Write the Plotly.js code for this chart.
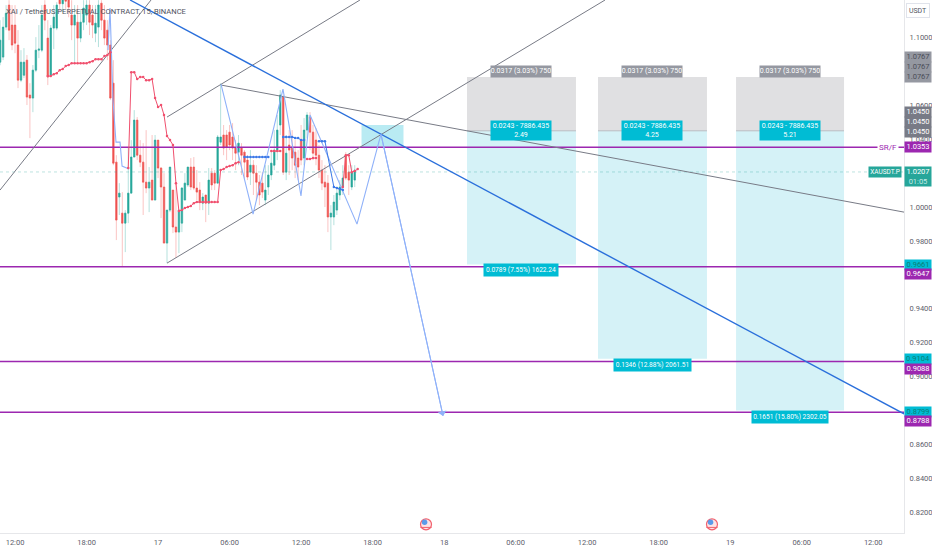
<!DOCTYPE html>
<html><head><meta charset="utf-8">
<script src="https://cdn.plot.ly/plotly-3.0.1.min.js"></script>
<style>html,body{margin:0;padding:0;background:#fff}#c{width:932px;height:550px}</style>
</head><body><div id="c"></div>
<script>
// Time in hours since the 16th 00:00; 15 minute candles
const firstBar = 10.75, barStep = 0.25;
const open = [1.0855,1.0885,1.1062,1.1192,1.1074,1.1074,1.0956,1.0749,1.0778,1.0867,1.0661,1.0643,1.0808,1.0926,1.0926,1.1192,1.0997,1.0778,1.1056,1.1056,1.1260,1.1200,1.1260,1.1240,1.1133,1.1074,1.1091,1.0997,1.1091,1.1133,1.1192,1.1133,1.1026,1.1062,1.1203,1.1103,1.1044,1.0956,1.0731,1.0265,1.0059,0.9964,0.9905,0.9964,1.0082,1.0295,1.0513,1.0306,1.0265,1.0147,1.0112,1.0159,1.0041,1.0395,1.0230,1.0118,0.9787,0.9982,1.0100,0.9882,0.9852,0.9905,1.0041,1.0130,1.0236,1.0236,1.0112,1.0100,1.0023,1.0071,1.0023,1.0200,1.0200,1.0141,1.0383,1.0425,1.0425,1.0442,1.0413,1.0348,1.0324,1.0348,1.0324,1.0277,1.0206,1.0247,1.0200,1.0147,1.0141,1.0041,1.0118,1.0189,1.0247,1.0336,1.0484,1.0649,1.0206,1.0366,1.0354,1.0324,1.0289,1.0395,1.0289,1.0454,1.0531,1.0442,1.0395,1.0306,1.0218,1.0147,1.0141,0.9941,0.9941,0.9982,1.0071,1.0118,1.0306,1.0206,1.0118,1.0159];
const high = [1.1103,1.1121,1.1192,1.1221,1.1192,1.1192,1.1044,1.0926,1.0938,1.0897,1.0731,1.0838,1.1003,1.1074,1.1192,1.1221,1.1103,1.1074,1.1192,1.1209,1.1300,1.1300,1.1300,1.1300,1.1221,1.1192,1.1192,1.1162,1.1221,1.1221,1.1221,1.1192,1.1192,1.1221,1.1221,1.1192,1.1103,1.0985,1.0867,1.0306,1.0141,1.0088,0.9982,1.0354,1.0395,1.0572,1.0531,1.0395,1.0377,1.0454,1.0236,1.0425,1.0425,1.0395,1.0236,1.0200,0.9982,1.0236,1.0100,1.0147,0.9982,1.0118,1.0200,1.0236,1.0289,1.0295,1.0218,1.0147,1.0082,1.0071,1.0230,1.0230,1.0218,1.0425,1.0731,1.0484,1.0454,1.0484,1.0495,1.0395,1.0425,1.0377,1.0336,1.0306,1.0336,1.0277,1.0247,1.0189,1.0206,1.0247,1.0247,1.0336,1.0454,1.0543,1.0690,1.0661,1.0425,1.0454,1.0454,1.0395,1.0336,1.0484,1.0525,1.0560,1.0560,1.0484,1.0466,1.0366,1.0277,1.0247,1.0189,1.0011,1.0071,1.0112,1.0159,1.0247,1.0324,1.0247,1.0247,1.0247];
const low = [1.0837,1.0867,1.1044,1.0985,1.0926,1.0908,1.0702,1.0737,1.0761,1.0602,1.0407,1.0560,1.0796,1.0879,1.0914,1.1044,1.0720,1.0767,1.0932,1.1044,1.1150,1.1150,1.1170,1.1120,1.0985,1.0855,1.0855,1.0973,1.1044,1.1074,1.1015,1.0997,1.0973,1.0944,1.1044,1.0956,1.0867,1.0631,1.0247,0.9805,0.9953,0.9646,0.9734,0.9905,1.0082,1.0295,1.0277,1.0236,0.9953,1.0082,0.9970,1.0041,1.0041,1.0171,0.9935,0.9787,0.9669,0.9970,0.9846,0.9699,0.9728,0.9852,1.0041,1.0118,1.0100,1.0100,1.0041,0.9982,0.9982,0.9911,0.9953,1.0100,1.0100,1.0141,1.0366,1.0306,1.0277,1.0336,1.0277,1.0218,1.0247,1.0189,1.0159,1.0159,1.0130,1.0071,1.0041,1.0011,1.0053,1.0011,1.0071,1.0159,1.0218,1.0277,1.0425,1.0189,1.0159,1.0189,1.0218,1.0171,1.0159,1.0247,1.0247,1.0407,1.0336,1.0277,1.0247,1.0171,1.0100,1.0000,0.9852,0.9746,0.9893,0.9953,1.0041,1.0071,1.0159,1.0071,1.0100,1.0118];
const close = [1.0985,1.1062,1.1144,1.1044,1.0956,1.0967,1.0749,1.0855,1.0855,1.0649,1.0643,1.0808,1.0926,1.0932,1.1133,1.1103,1.0767,1.1056,1.1121,1.1192,1.1200,1.1260,1.1215,1.1180,1.1074,1.1133,1.0997,1.1091,1.1174,1.1192,1.1091,1.1074,1.1085,1.1192,1.1103,1.0997,1.0956,1.0643,1.0259,0.9923,1.0082,0.9905,0.9964,1.0082,1.0295,1.0513,1.0306,1.0265,1.0147,1.0112,1.0147,1.0041,1.0395,1.0230,1.0118,0.9787,0.9982,1.0236,0.9882,0.9852,0.9982,1.0112,1.0141,1.0236,1.0118,1.0112,1.0088,1.0029,1.0059,1.0023,1.0159,1.0130,1.0141,1.0413,1.0413,1.0348,1.0354,1.0366,1.0348,1.0318,1.0377,1.0306,1.0265,1.0177,1.0247,1.0200,1.0147,1.0071,1.0088,1.0100,1.0189,1.0259,1.0336,1.0454,1.0661,1.0206,1.0318,1.0336,1.0289,1.0247,1.0236,1.0277,1.0454,1.0543,1.0442,1.0318,1.0306,1.0218,1.0141,1.0118,0.9941,0.9964,1.0029,1.0082,1.0118,1.0171,1.0171,1.0159,1.0206,1.0218];

// Axis labels
const xTickVals = [12,18,24,30,36,42,48,54,60,66,72,78,84];
const xTickText = ["12:00","18:00","17","06:00","12:00","18:00","18","06:00","12:00","18:00","19","06:00","12:00"];
const yTickVals = [1.1,1.06,1.04,1.0,0.98,0.94,0.92,0.90,0.86,0.84,0.82];
const xRange = [10.74,86.58], yRange = [0.8076,1.1222];

// Horizontal levels
const levels = [1.0353,0.9647,0.9088,0.8788];
const lastPrice = 1.0207;

// Trend lines: [x0,x1], [y0,y1]
const trendX = [[10.74,23.41],[24.75,40.94],[24.75,61.5],[29.28,86.58]];
const trendY = [[1.0100,1.1222],[1.0531,1.1222],[0.9669,1.1222],[1.0720,0.9970]];
const blueX = [21.65,86.58], blueY = [1.1222,0.8779];

// Zigzag drawings
const zigAX = [19.80,19.97,20.22,20.47,20.81,20.98,21.56];
const zigAY = [1.0926,1.1174,1.0631,1.0383,1.0383,1.0242,1.0224];
const zigBX = [29.28,31.97,34.48,35.99,36.75,40.69,42.70,47.91];
const zigBY = [1.0725,0.9958,1.0696,1.0065,1.0543,0.9899,1.0430,0.8767];

// Indicator segments
const redAX = [14.75,15,15.25,15.5,15.75,16,16.25,16.5,16.75,17,17.25,17.5,17.75,18,18.25,18.5,18.75,19,19.25,19.5,19.75,20];
const redAY = [1.0773,1.0773,1.0784,1.0790,1.0808,1.0814,1.0832,1.0838,1.0849,1.0849,1.0849,1.0849,1.0849,1.0849,1.0855,1.0861,1.0873,1.0873,1.0873,1.0891,1.0897,1.0914];
const redBX = [21.5,21.75,22,22.25,22.5,22.75,23,23.25,23.5,23.75,24,24.25,24.5,24.75,25,25.25,25.5,25.75,26,26.25,26.5,26.75,27,27.25,27.5,27.75,28,28.25,28.5,28.75,29,29.25,29.5,29.75,30,30.25,30.5,30.75];
const redBY = [1.0230,1.0796,1.0796,1.0755,1.0767,1.0767,1.0749,1.0749,1.0755,1.0643,1.0590,1.0602,1.0543,1.0419,1.0395,1.0366,1.0141,0.9976,0.9982,0.9994,1.0000,1.0006,1.0023,1.0029,1.0029,1.0029,1.0029,1.0029,1.0029,1.0029,1.0029,1.0218,1.0224,1.0236,1.0242,1.0247,1.0259,1.0265];
const redCX = [33.5,33.75,34,34.25], redCY = [1.0330,1.0330,1.0330,1.0330];
const redDX = [36.5,36.75,37,37.25], redDY = [1.0283,1.0283,1.0289,1.0289];
const redEX = [39.5,39.75,40,40.25,40.5,40.75], redEY = [1.0118,1.0306,1.0306,1.0206,1.0212,1.0224];
const stepAX = [31.25,31.5,31.75,32,32.25,32.5,32.75,33,33.25], stepAY = [1.0295,1.0295,1.0295,1.0295,1.0295,1.0295,1.0295,1.0295,1.0295];
const stepBX = [34.5,34.75,35,35.25,35.5,35.75,36,36.25], stepBY = [1.0413,1.0413,1.0413,1.0413,1.0407,1.0407,1.0395,1.0395];
const stepCX = [37.5,37.75,38,38.75,39,39.25,39.5], stepCY = [1.0389,1.0389,1.0389,1.0118,1.0112,1.0106,1.0100];

// Position boxes
const boxLeft = [49.92,60.91,72.49], boxRight = [59.06,70.05,81.55];
const boxEntry = 1.0450, boxStop = 1.0767, boxTargets = [0.9661,0.9104,0.8799];
const boxMid = [54.49,65.48,77.02];
const stopText = "0.0317 (3.03%) 750";
const entryText = ["0.0243 - 7886.435<br>2.49","0.0243 - 7886.435<br>4.25","0.0243 - 7886.435<br>5.21"];
const targetText = ["0.0789 (7.55%) 1622.24","0.1346 (12.88%) 2061.51","0.1651 (15.80%) 2302.05"];
const zoneX = [41.07,44.59], zoneY = [1.0353,1.0484];

// Event icons
const eventX = [46.48,70.47], eventY = 0.8127;

const barX = open.map((_,i)=>firstBar+barStep*i);
const UP='#26a69a', DOWN='#ef5350';
const FONT='Roboto, "Liberation Sans", sans-serif';

const line=(x,y,color,width,dash,extra)=>Object.assign({type:'scatter',mode:'lines',x,y,line:{color,width,dash:dash||'solid'},hoverinfo:'skip',showlegend:false},extra||{});
const marked=(x,y,color,w,size)=>({type:'scatter',mode:'lines+markers',x,y,line:{color,width:w},marker:{color,size},hoverinfo:'skip',showlegend:false});

const traces=[];
traces.push(line(xRange,[lastPrice,lastPrice],'rgba(38,166,154,0.3)',1,'dot'));
traces.push({type:'candlestick',x:barX,open,high,low,close,whiskerwidth:0,hoverinfo:'skip',showlegend:false,
  increasing:{line:{color:'rgba(38,166,154,0.34)',width:1},fillcolor:'rgba(0,0,0,0)'},
  decreasing:{line:{color:'rgba(239,83,80,0.34)',width:1},fillcolor:'rgba(0,0,0,0)'}});
traces.push({type:'candlestick',x:barX,open,close,
  high:open.map((o,i)=>Math.max(o,close[i])),low:open.map((o,i)=>Math.min(o,close[i])),
  whiskerwidth:0,hoverinfo:'skip',showlegend:false,
  increasing:{line:{color:UP,width:0.4},fillcolor:UP},
  decreasing:{line:{color:DOWN,width:0.4},fillcolor:DOWN}});
levels.forEach(v=>traces.push(line(xRange,[v,v],'#9c27b0',1.5)));
trendX.forEach((x,i)=>traces.push(line(x,trendY[i],'#787b86',1)));
traces.push(line(blueX,blueY,'#2a6fdb',1.4));
traces.push(line(zigAX,zigAY,'#8fb1f9',1.1));
traces.push(line(zigBX,zigBY,'#8fb1f9',1.1));
[[redAX,redAY],[redBX,redBY],[redCX,redCY],[redDX,redDY],[redEX,redEY]].forEach(p=>traces.push(marked(p[0],p[1],'#f0506e',1,2.5)));
[[stepAX,stepAY],[stepBX,stepBY],[stepCX,stepCY]].forEach(p=>traces.push(marked(p[0],p[1],'#3b78e7',1,2.5)));
traces.push({type:'scatter',mode:'markers',x:eventX,y:[eventY,eventY],hoverinfo:'skip',showlegend:false,
  marker:{size:11,color:'#fde4e6',line:{color:'#f2616d',width:1.2}}});
traces.push({type:'scatter',mode:'markers',x:eventX.map(v=>v-0.12),y:[eventY+0.0012,eventY+0.0012],hoverinfo:'skip',showlegend:false,
  marker:{size:5.5,color:'#5b9bea'}});
traces.push({type:'scatter',mode:'markers',x:eventX,y:[eventY-0.0018,eventY-0.0018],hoverinfo:'skip',showlegend:false,
  marker:{size:8,symbol:'line-ew',line:{color:'#f2616d',width:1}}});

const shapes=[];
boxLeft.forEach((l,i)=>{
  shapes.push({type:'rect',layer:'below',x0:l,x1:boxRight[i],y0:boxEntry,y1:boxStop,fillcolor:'#e0e0e2',line:{width:0}});
  shapes.push({type:'rect',layer:'below',x0:l,x1:boxRight[i],y0:boxTargets[i],y1:boxEntry,fillcolor:'#d5f2f7',line:{width:0}});
  shapes.push({type:'line',layer:'below',x0:l,x1:boxRight[i],y0:boxEntry,y1:boxEntry,line:{color:'#b9bac0',width:1}});
});
shapes.push({type:'rect',layer:'below',x0:zoneX[0],x1:zoneX[1],y0:zoneY[0],y1:zoneY[1],fillcolor:'#b9ebf3',line:{width:0}});

const ann=[];
const chip=(x,y,text,bg,fg,size,w,h,extra)=>ann.push(Object.assign({x,y,xref:'x',yref:'y',text,showarrow:false,bgcolor:bg,borderpad:0,width:w,height:h,
  font:{family:FONT,size,color:fg||'#fff'},align:'center'},extra||{}));
const targetWidth=[74,77,76];
boxMid.forEach((m,i)=>{
  chip(m,boxStop,stopText,'#9598a1','#fff',7,60,10.5,{yshift:6});
  chip(m,boxEntry,entryText[i],'#00bcd4','#fff',7,60,19,{yshift:0});
  chip(m,boxTargets[i],targetText[i],'#00bcd4','#fff',6.6,targetWidth[i],12,{yshift:-6});
});
const axisChip=(y,shift,text,bg,fg,h)=>ann.push({xref:'paper',x:1,xanchor:'left',xshift:0,yref:'y',y,yshift:shift||0,text,showarrow:false,
  bgcolor:bg,width:26,height:h||9.5,borderpad:0,align:'center',font:{family:FONT,size:7.5,color:fg}});
axisChip(1.0767,20,'1.0767','#9598a1','#4a4d58');
axisChip(1.0767,10,'1.0767','#9598a1','#4a4d58');
axisChip(1.0767,0,'1.0767','#9598a1','#4a4d58');
axisChip(1.0450,19,'1.0450','#787b86','#fff');
axisChip(1.0450,9,'1.0450','#787b86','#fff');
axisChip(1.0450,-1,'1.0450','#787b86','#fff');
axisChip(1.0353,0,'1.0353','#9c27b0','#fff');
axisChip(lastPrice,-4.5,'1.0207<br><span style="color:#c5ebe6">01:05</span>','#26a69a','#fff',19);
axisChip(0.9661,-1,'0.9661','#00bcd4','#0a7f77');
axisChip(0.9647,-7,'0.9647','#9c27b0','#fff');
axisChip(0.9104,0,'0.9104','#00bcd4','#0a7f77');
axisChip(0.9088,-7.5,'0.9088','#9c27b0','#fff');
axisChip(0.8799,-1,'0.8799','#00bcd4','#0a7f77');
axisChip(0.8788,-8.5,'0.8788','#9c27b0','#fff');
// Title, price tags, currency and arrow
ann.push({xref:'paper',yref:'paper',x:0.005,y:1-12/533,xanchor:'left',yanchor:'middle',showarrow:false,borderpad:0,
  text:'XAI / TetherUS PERPETUAL CONTRACT, 15, BINANCE',font:{family:FONT,size:7.6,color:'#50535e'}});
ann.push({x:86.2,xref:'x',y:levels[0],yref:'y',xanchor:'right',text:'SR/F',showarrow:false,bgcolor:'#fff',borderpad:1,font:{family:FONT,size:8,color:'#9c27b0'}});
ann.push({x:86.4,xref:'x',y:lastPrice,yref:'y',xanchor:'right',text:'XAUSDT.P',showarrow:false,bgcolor:'#26a69a',borderpad:0,width:32,height:10,font:{family:FONT,size:6.5,color:'#fff'}});
ann.push({xref:'paper',x:1,xshift:2,xanchor:'left',yref:'paper',y:1,yshift:-3,yanchor:'top',text:'USDT',showarrow:false,bgcolor:'#fff',bordercolor:'#e0e3eb',borderwidth:1,borderpad:0,width:22,height:13,font:{family:FONT,size:7,color:'#50535e'}});
ann.push({x:zigBX[7],y:zigBY[7],ax:zigBX[6],ay:zigBY[6],xref:'x',yref:'y',axref:'x',ayref:'y',text:'',showarrow:true,arrowhead:1,arrowsize:1.5,arrowwidth:1,arrowcolor:'#8fb1f9'});

const layout={width:932,height:550,margin:{l:0,r:28,t:0,b:17,pad:0},paper_bgcolor:'#fff',plot_bgcolor:'#fff',showlegend:false,shapes,annotations:ann,
  xaxis:{type:'linear',range:xRange,tickmode:'array',tickvals:xTickVals,ticktext:xTickText,showgrid:false,zeroline:false,ticks:'',ticklabelstandoff:2,showline:true,linecolor:'#e6e7ea',linewidth:1,
    tickfont:{family:FONT,size:7.5,color:'#5d606b'},rangeslider:{visible:false},fixedrange:true},
  yaxis:{type:'linear',side:'right',range:yRange,tickmode:'array',tickvals:yTickVals,tickformat:'.4f',showgrid:false,zeroline:false,ticks:'',ticklabelstandoff:3,showline:true,linecolor:'#e6e7ea',linewidth:1,
    tickfont:{family:FONT,size:7.5,color:'#5d606b'},fixedrange:true}};
Plotly.newPlot('c',traces,layout,{displayModeBar:false,staticPlot:true});
</script></body></html>
